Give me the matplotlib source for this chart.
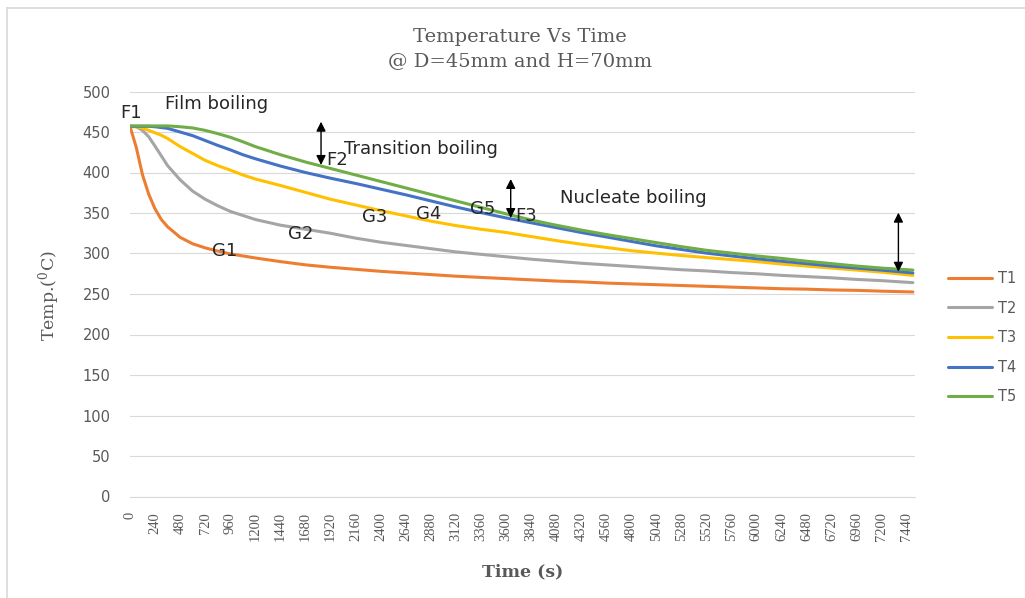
import matplotlib
matplotlib.use("Agg")
import matplotlib.pyplot as plt
from matplotlib.lines import Line2D

# ---- data ----
time_s = [0, 60, 120, 180, 240, 300, 360, 480, 600, 720, 840, 960, 1080, 1200,
          1440, 1680, 1920, 2160, 2400, 2640, 2880, 3120, 3360, 3600, 3840,
          4080, 4320, 4560, 4800, 5040, 5280, 5520, 5760, 6000, 6240, 6480,
          6720, 6960, 7200, 7500]

T1 = [457, 431, 397, 373, 355, 342, 333, 320, 312, 307, 303, 299.5, 297, 294.5,
      290, 286, 283, 280.5, 278, 276, 274, 272, 270.5, 269, 267.5,
      266, 265, 263.5, 262.5, 261.5, 260.5, 259.5, 258.5, 257.5, 256.5, 256,
      255, 254.5, 253.5, 252.5]
T2 = [457, 456.5, 452, 444, 432.5, 420.5, 408.5, 391, 377, 367, 359, 352, 347, 342,
      335, 330, 325, 319, 314, 310, 306, 302, 299, 296, 293,
      290.5, 288, 286, 284, 282, 280, 278.5, 276.5, 275, 273, 271.5,
      270, 268, 266.5, 264]
T3 = [457, 456.5, 455, 452, 449, 446, 442, 432, 423.5, 415, 408.5, 403, 397, 392,
      384, 375.5, 367, 360, 353, 346.5, 340, 334.5, 330, 326, 321,
      316, 311.5, 307.5, 303.5, 300.5, 297.5, 295, 292.5, 290, 287, 284.5,
      282, 279.5, 277, 273]
T4 = [457, 457, 457, 457, 456.5, 455.5, 454.5, 450, 445.5, 439.5, 433.5, 428, 422, 417,
      408, 400, 393, 386.5, 379.5, 372.5, 365, 357.5, 350.5, 344, 338,
      332, 326, 320.5, 315, 309.5, 305, 300.5, 297, 293.5, 290.5, 287.5,
      284.5, 282, 279.5, 276]
T5 = [457.5, 457.5, 457.5, 457.5, 457.5, 457.5, 457.5, 456.5, 455, 452, 448, 443.5, 438, 432,
      422, 413, 405, 397, 389, 381, 373, 365, 357, 349, 341.5,
      335, 329, 323.5, 318.5, 313.5, 308.5, 304, 300.5, 297, 294, 290.5,
      287.5, 284.5, 282, 279.5]

series_names = ["T1", "T2", "T3", "T4", "T5"]
series_colors = ["#ED7D31", "#A5A5A5", "#FFC000", "#4472C4", "#70AD47"]
x_ticks = list(range(0, 7441, 240))
y_ticks = list(range(0, 501, 50))

labels_text = ["F1", "Film boiling", "F2", "Transition boiling", "G1", "G2",
               "G3", "G4", "G5", "F3", "Nucleate boiling"]
labels_t = [10, 335, 1877, 2050, 790, 1513, 2222, 2739, 3257, 3690, 4119]
labels_T = [473, 484.5, 415, 429, 303, 324.5, 345, 349, 355, 346, 368.5]
labels_ha = ["center", "left", "left", "left", "left", "left",
             "left", "left", "left", "left", "left"]

arrow_t = [1830, 3647, 7361]
arrow_top = [462.7, 392.0, 350.4]
arrow_bottom = [409.3, 343.8, 277.5]

# ---- figure ----
plt.rcParams["mathtext.fontset"] = "custom"
plt.rcParams["mathtext.rm"] = "DejaVu Serif"
W, H = 1025, 598
fig = plt.figure(figsize=(W / 100, H / 100), dpi=100)
ax = fig.add_axes([130 / W, 1 - 496.5 / H, 785 / W, 405 / H])

grey = "#595959"
serif = "DejaVu Serif"
tickserif = "Liberation Serif"
sans = "DejaVu Sans"

series = [T1, T2, T3, T4, T5]
for name, vals, col in zip(series_names, series, series_colors):
    ax.plot(time_s, vals, color=col, lw=2.2, label=name, solid_capstyle="round")

ax.set_xlim(0, 7520)
ax.set_ylim(0, 500)
ax.set_yticks(y_ticks)
ax.set_xticks(x_ticks)
ax.set_xticklabels([str(v) for v in x_ticks], rotation=90, family=tickserif,
                   fontsize=10.5, color=grey, va="top")
ax.set_yticklabels([str(v) for v in y_ticks], family=sans, fontsize=10.5, color=grey)
ax.tick_params(axis="x", length=0, pad=11)
ax.tick_params(axis="y", length=0, pad=14)
ax.grid(axis="y", color="#d9d9d9", lw=0.8)
ax.set_axisbelow(True)
for s in ["top", "right", "left"]:
    ax.spines[s].set_visible(False)
ax.spines["bottom"].set_color("#d9d9d9")
ax.spines["bottom"].set_linewidth(0.8)

# annotations
for txt, tt, TT, ha in zip(labels_text, labels_t, labels_T, labels_ha):
    ax.text(tt, TT, txt, ha=ha, va="center", family=sans, fontsize=13,
            color="#262626")
for tt, top, bot in zip(arrow_t, arrow_top, arrow_bottom):
    ax.annotate("", xy=(tt, bot), xytext=(tt, top),
                arrowprops=dict(arrowstyle="<|-|>", color="black", lw=1.0,
                                mutation_scale=14, shrinkA=0, shrinkB=0))

# titles and axis labels
fig.text(0.507, 1 - 42 / H, "Temperature Vs Time", ha="center", va="baseline",
         family=serif, fontsize=14, color=grey)
fig.text(0.507, 1 - 66 / H, "@ D=45mm and H=70mm", ha="center", va="baseline",
         family=serif, fontsize=14, color=grey)
fig.text(49 / W, 1 - 296 / H, r"Temp.($\mathregular{^0}$C)", rotation=90,
         ha="center", va="center", family=serif, fontsize=12.5, color=grey)
fig.text(523 / W, 1 - 572 / H, "Time (s)", ha="center", va="center",
         family=serif, fontsize=12.5, fontweight="bold", color=grey)

# legend
leg = fig.legend(loc="upper left", bbox_to_anchor=(948 / W, 1 - 271 / H),
                 frameon=False, prop={"family": sans, "size": 10.5},
                 handlelength=3.05, handletextpad=0.35, labelspacing=1.0,
                 borderaxespad=0, borderpad=0)
for t in leg.get_texts():
    t.set_color(grey)

# chart border (left and top)
fig.add_artist(Line2D([7 / W, 7 / W], [0, 1 - 8 / H], color="#d9d9d9", lw=1.2,
                      transform=fig.transFigure))
fig.add_artist(Line2D([7 / W, 1], [1 - 8 / H, 1 - 8 / H], color="#d9d9d9", lw=1.2,
                      transform=fig.transFigure))

fig.savefig("out.png", dpi=100)
